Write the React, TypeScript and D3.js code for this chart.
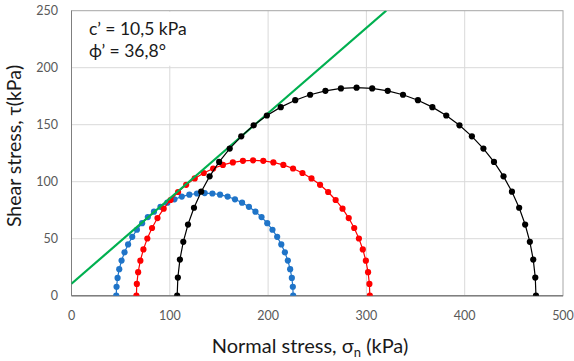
import React from "react";
import * as d3 from "d3";

const testNames = ["Test 1", "Test 2", "Test 3"];
const sigma3 = [45.5, 66, 107.5];
const sigma1 = [225.5, 303.5, 472.5];
const testColors = ["#1f74c8", "#ff0000", "#000000"];
const cohesion = 10.5;
const phiDeg = 36.8;
const angleStepDeg = 5;
const xTicks = [0, 100, 200, 300, 400, 500];
const yTicks = [0, 50, 100, 150, 200, 250];

const W = 574;
const H = 361;
const M = { left: 71.5, right: 563, top: 10.7, bottom: 295.7 };
const FONT = "Lato, 'Open Sans', sans-serif";

export default function App() {
  const x = d3.scaleLinear().domain([0, 500]).range([M.left, M.right]);
  const y = d3.scaleLinear().domain([0, 250]).range([M.bottom, M.top]);

  const circles = testNames.map((name, i) => {
    const c = (sigma1[i] + sigma3[i]) / 2;
    const r = (sigma1[i] - sigma3[i]) / 2;
    const angles = d3.range(180, -0.001, -angleStepDeg);
    const pts = angles.map((a) => {
      const t = (a * Math.PI) / 180;
      return [c + r * Math.cos(t), r * Math.sin(t)] as [number, number];
    });
    return { name, pts, color: testColors[i] };
  });

  const line = d3
    .line<[number, number]>()
    .x((d) => x(d[0]))
    .y((d) => y(d[1]));

  const tanPhi = Math.tan((phiDeg * Math.PI) / 180);
  const sEnd = (250 - cohesion) / tanPhi;
  const envelope: [number, number][] = [
    [0, cohesion],
    [sEnd, 250],
  ];

  const drawCircle = (cObj: typeof circles[number]) => (
    <g key={cObj.name}>
      <path d={line(cObj.pts) || ""} fill="none" stroke={cObj.color} strokeWidth={1.2} />
      {cObj.pts.map((p, j) => (
        <circle key={j} cx={x(p[0])} cy={y(p[1])} r={3.1} fill={cObj.color} />
      ))}
    </g>
  );

  return (
    <svg width={W} height={H} style={{ position: "absolute", left: 0, top: 0, background: "#fff" }}>
      {/* gridlines */}
      {xTicks.slice(1, -1).map((t) => (
        <line key={"gx" + t} x1={x(t)} x2={x(t)} y1={M.top} y2={M.bottom} stroke="#d9d9d9" strokeWidth={1} />
      ))}
      {yTicks.slice(1, -1).map((t) => (
        <line key={"gy" + t} x1={M.left} x2={M.right} y1={y(t)} y2={y(t)} stroke="#d9d9d9" strokeWidth={1} />
      ))}
      {/* annotation box background */}
      <rect x={M.left + 1} y={M.top + 1} width={126} height={54} fill="#ffffff" />
      {/* plot border */}
      <rect x={M.left} y={M.top} width={M.right - M.left} height={M.bottom - M.top} fill="none" stroke="#a6a6a6" strokeWidth={1} />
      <line x1={M.left} x2={M.right} y1={M.bottom} y2={M.bottom} stroke="#7f7f7f" strokeWidth={1.5} />
      <line x1={M.left} x2={M.left} y1={M.top} y2={M.bottom} stroke="#7f7f7f" strokeWidth={1} />

      {/* tick labels */}
      {xTicks.map((t) => (
        <text key={"xl" + t} x={x(t)} y={320} textAnchor="middle" fontSize={12.5} fill="#595959" fontFamily={FONT}>
          {t}
        </text>
      ))}
      {yTicks.map((t) => (
        <text key={"yl" + t} x={58} y={y(t) + 4.5} textAnchor="end" fontSize={12.5} fill="#595959" fontFamily={FONT}>
          {t}
        </text>
      ))}

      <clipPath id="plotclip">
        <rect x={M.left} y={M.top} width={M.right - M.left} height={M.bottom - M.top} />
      </clipPath>
      <g clipPath="url(#plotclip)">
        {drawCircle(circles[0])}
        {drawCircle(circles[1])}
        <path d={line(envelope) || ""} stroke="#00b050" strokeWidth={2.2} fill="none" />
        {drawCircle(circles[2])}
      </g>

      {/* annotation */}
      <text x={89} y={35} fontSize={17.5} fill="#1a1a1a" fontFamily={FONT}>
        c’ = 10,5 kPa
      </text>
      <text x={89} y={57} fontSize={17.5} fill="#1a1a1a" fontFamily={FONT}>
        ϕ’ = 36,8°
      </text>

      {/* axis titles */}
      <text x={310} y={353} textAnchor="middle" fontSize={20} fill="#1a1a1a" fontFamily={FONT}>
        Normal stress, σ<tspan fontSize={13} dy={4}>n</tspan>
        <tspan dy={-4}> (kPa)</tspan>
      </text>
      <text
        transform={`translate(21,146) rotate(-90)`}
        textAnchor="middle"
        fontSize={19.5}
        fill="#1a1a1a"
        fontFamily={FONT}
      >
        Shear stress, τ(kPa)
      </text>
    </svg>
  );
}
